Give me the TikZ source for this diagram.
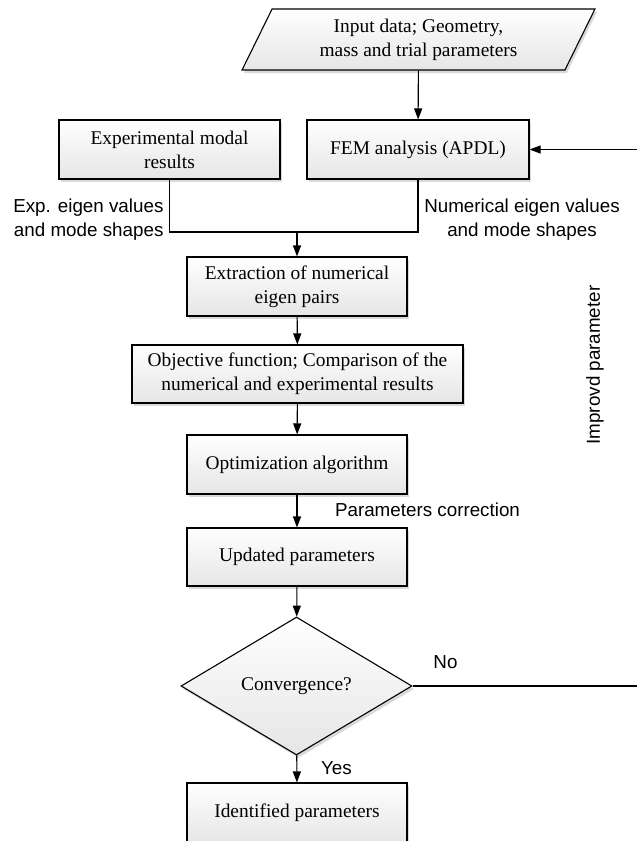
\documentclass[tikz,border=0pt]{standalone}
\usepackage{fontspec}
\setmainfont{Liberation Serif}
\setsansfont{Liberation Sans}
\usetikzlibrary{shapes.geometric,arrows.meta,shadows}

\begin{document}
\begin{tikzpicture}[x=1pt, y=-1pt, line width=1.1pt, >={Triangle[length=11pt,width=8pt]},
  box/.style={draw, line width=1.1pt, top color=white, bottom color=gray!20,
    drop shadow={shadow xshift=2pt, shadow yshift=-3pt, fill=black!15, opacity=1},
    align=center, inner sep=0pt, minimum width=220pt, minimum height=59pt,
    font=\fontsize{19.4}{24}\selectfont},
  lbl/.style={font=\sffamily\fontsize{18.8}{24}\selectfont, inner sep=0pt}]
  \useasboundingbox (0,0) rectangle (637,841);

  \node[box, trapezium, trapezium left angle=64, trapezium right angle=116,
    trapezium stretches=true, minimum width=353pt, minimum height=61pt] (in) at (418.5,39.5)
    {Input data; Geometry,\\mass and trial parameters};
  \node[box, minimum width=221pt] (exp) at (169.5,149.5) {Experimental modal\\results};
  \node[box, minimum width=222pt] (fem) at (418,149.5) {FEM analysis (APDL)};
  \node[box] (ext) at (297,286.5) {Extraction of numerical\\eigen pairs};
  \node[box, minimum width=331pt, minimum height=58pt] (obj) at (297.5,374)
    {Objective function; Comparison of the\\numerical and experimental results};
  \node[box] (opt) at (297,464.5) {Optimization algorithm};
  \node[box, minimum height=58pt] (upd) at (297,557) {Updated parameters};
  \node[box, diamond, aspect=1.67, minimum width=231pt, minimum height=138pt] (conv) at (296.5,686)
    {Convergence?};
  \node[box] (idn) at (297,812.5) {Identified parameters};

  \coordinate (mrg) at (297,232);
  \coordinate (back) at (642,686);

  \draw[->] (in) -- (fem);
  \draw (exp.south) |- (mrg);
  \draw (fem.south) |- (mrg);
  \draw[->] (mrg) -- (ext.north);
  \foreach \a/\b in {ext/obj, obj/opt, opt/upd, upd/conv, conv/idn}
    \draw[->] (\a) -- (\b);
  \draw[->] (conv.east) -- (back) |- (fem.east);

  \node[lbl, align=right, anchor=east] (expl) at (164,220) {Exp. eigen values\\and mode shapes};
  \node[lbl, align=center] (feml) at (522,220) {Numerical eigen values\\and mode shapes};
  \node[lbl] (corr) at (427.5,510) {Parameters correction};
  \node[lbl] (nol) at (445.5,662) {No};
  \node[lbl] (yesl) at (336.5,768) {Yes};
  \node[lbl, rotate=90] (impr) at (595,365) {Improvd parameter};
\end{tikzpicture}
\end{document}
